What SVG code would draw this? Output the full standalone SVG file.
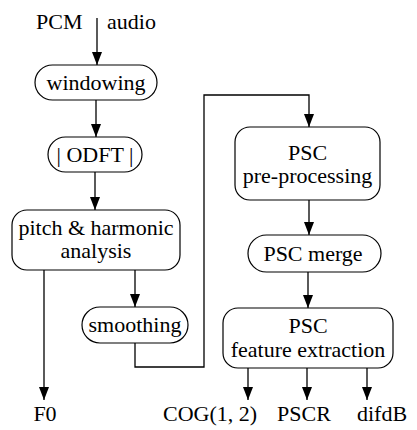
<svg xmlns="http://www.w3.org/2000/svg" width="417" height="430" viewBox="0 0 417 430">
<defs>
<marker id="ah" markerUnits="userSpaceOnUse" markerWidth="13" markerHeight="10" refX="13" refY="5" orient="auto">
<path d="M0,0 L13,5 L0,10 z" fill="#000"/>
</marker>
<style>
text{font-family:'Liberation Serif',Tinos,'Times New Roman',Times,'Nimbus Roman','FreeSerif','DejaVu Serif',serif;font-size:22px;fill:#000}
.c{text-anchor:middle}
rect{fill:#fff;stroke:#000;stroke-width:1.2}
.e{fill:none;stroke:#000;stroke-width:1.3}
.a{marker-end:url(#ah)}
</style>
</defs>
<rect x="0" y="0" width="417" height="430" style="fill:#fff;stroke:none"/>
<g id="connectors">
<path class="e a" d="M97,18 V65"/>
<path class="e a" d="M96,100 V137"/>
<path class="e a" d="M95,172 V210"/>
<path class="e a" d="M44,270 V400"/>
<path class="e a" d="M135,270 V307"/>
<path class="e a" d="M135,343 V367 H204 V95 H309 V127"/>
<path class="e a" d="M309,200 V235"/>
<path class="e a" d="M308,272 V308"/>
<path class="e a" d="M248,368 V400"/>
<path class="e a" d="M307,368 V400"/>
<path class="e a" d="M367,368 V400"/>
</g>
<g id="input-label">
<text x="36" y="29">PCM</text>
<text x="107" y="29">audio</text>
</g>
<g id="windowing">
<rect x="35" y="65" width="122" height="35" rx="17.5"/>
<text class="c" x="96" y="90">windowing</text>
</g>
<g id="odft">
<rect x="48" y="137" width="94" height="35" rx="17.5"/>
<text class="c" x="95" y="162">| ODFT |</text>
</g>
<g id="pitch">
<rect x="12" y="210" width="168" height="60" rx="15"/>
<text class="c" x="96" y="235">pitch &amp; harmonic</text>
<text class="c" x="96" y="258">analysis</text>
</g>
<g id="smoothing">
<rect x="82" y="307" width="106" height="36" rx="18"/>
<text class="c" x="135" y="332">smoothing</text>
</g>
<g id="psc-pre">
<rect x="235" y="127" width="145" height="73" rx="15"/>
<text class="c" x="307.5" y="160">PSC</text>
<text class="c" x="307.5" y="183">pre-processing</text>
</g>
<g id="psc-merge">
<rect x="248" y="235" width="133" height="37" rx="18.5"/>
<text class="c" x="313" y="261">PSC merge</text>
</g>
<g id="psc-feature">
<rect x="223" y="308" width="170" height="60" rx="15"/>
<text class="c" x="308" y="333">PSC</text>
<text class="c" x="308" y="357">feature extraction</text>
</g>
<g id="outputs">
<text class="c" x="45" y="421">F0</text>
<text x="163" y="421">COG(1, 2)</text>
<text x="277" y="421">PSCR</text>
<text x="357" y="421">difdB</text>
</g>
</svg>
